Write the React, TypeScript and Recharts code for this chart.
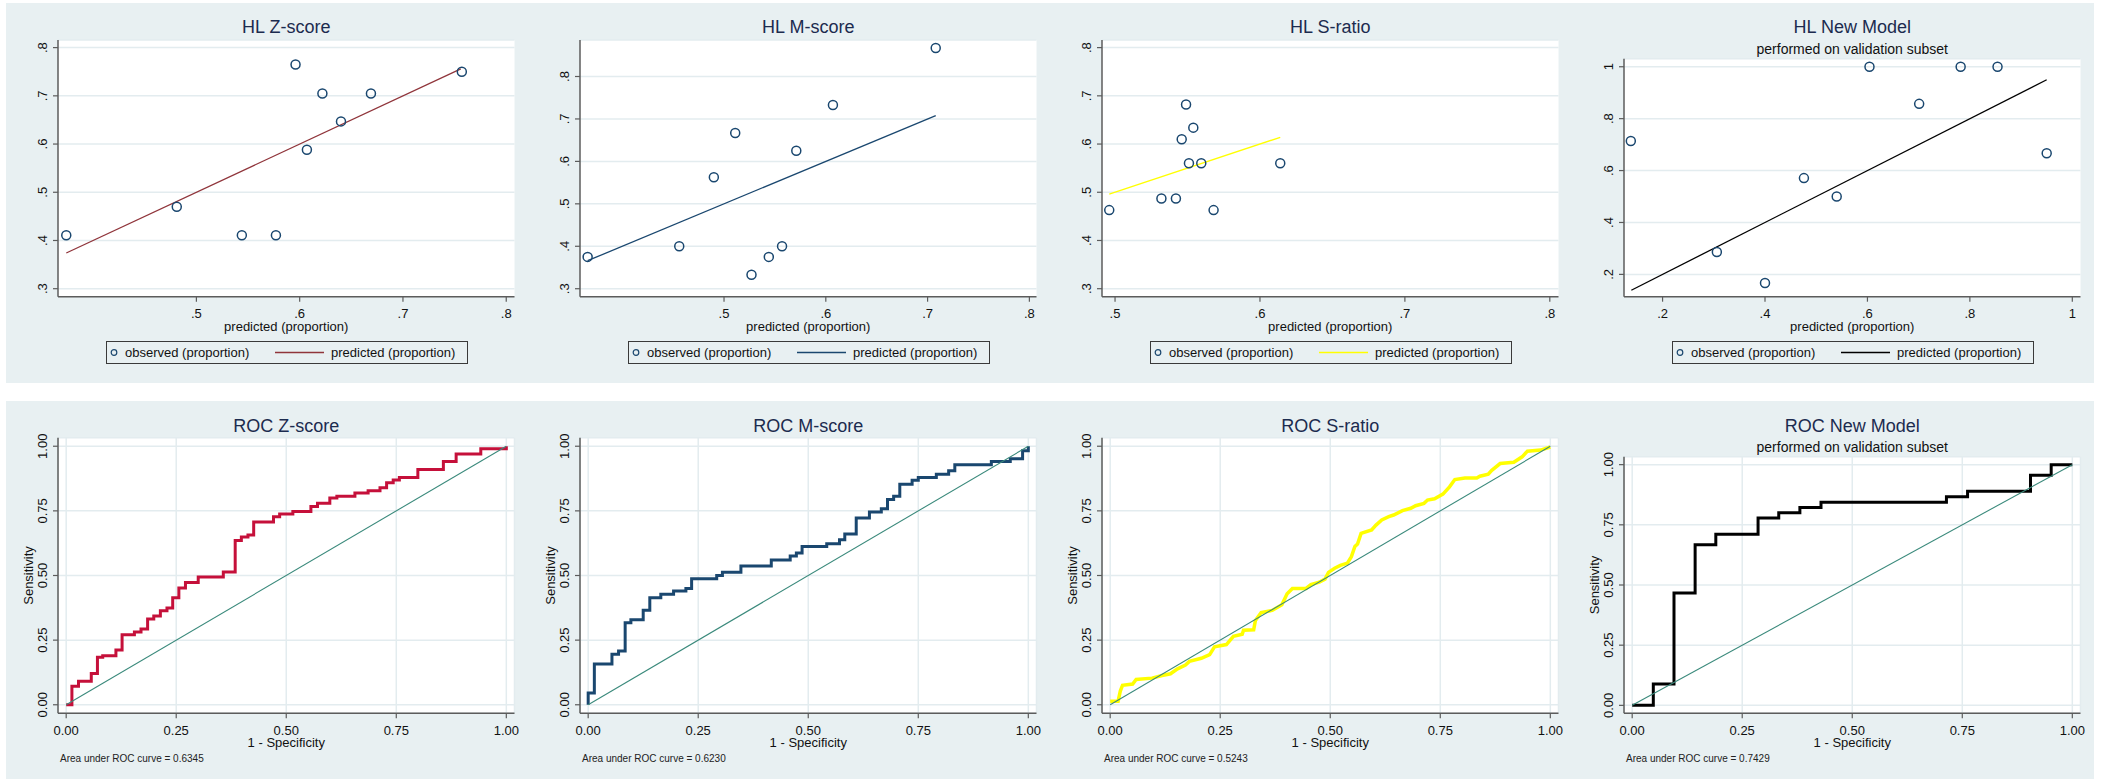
import React from 'react';
import { ComposedChart, Line, Scatter, XAxis, YAxis, CartesianGrid, Label } from 'recharts';

// Hosmer-Lemeshow groups: predicted proportion (x) vs observed proportion (y)
const zObsX = [0.374, 0.481, 0.544, 0.577, 0.596, 0.607, 0.622, 0.640, 0.669, 0.757];
const zObsY = [0.411, 0.470, 0.411, 0.411, 0.765, 0.588, 0.705, 0.647, 0.705, 0.750];
const zPredX = [0.374, 0.756];
const zPredY = [0.374, 0.756];

const mObsX = [0.366, 0.456, 0.490, 0.511, 0.527, 0.544, 0.557, 0.571, 0.607, 0.708];
const mObsY = [0.375, 0.400, 0.5625, 0.667, 0.333, 0.375, 0.400, 0.625, 0.733, 0.867];
const mPredX = [0.366, 0.708];
const mPredY = [0.366, 0.708];

const sObsX = [0.496, 0.532, 0.542, 0.546, 0.549, 0.551, 0.554, 0.5595, 0.568, 0.614];
const sObsY = [0.463, 0.487, 0.487, 0.610, 0.682, 0.560, 0.634, 0.560, 0.463, 0.560];
const sPredX = [0.496, 0.614];
const sPredY = [0.496, 0.614];

const nObsX = [0.138, 0.306, 0.400, 0.476, 0.540, 0.604, 0.701, 0.782, 0.854, 0.950];
const nObsY = [0.714, 0.286, 0.167, 0.571, 0.500, 1.000, 0.857, 1.000, 1.000, 0.667];
const nPredX = [0.139, 0.950];
const nPredY = [0.139, 0.950];

// ROC curves: 1 - specificity (x) vs sensitivity (y)
const rocZX = [0, 0.013, 0.028, 0.057, 0.071, 0.083, 0.113, 0.127, 0.155, 0.170, 0.185, 0.199, 0.214, 0.229, 0.242, 0.256, 0.271, 0.300, 0.357, 0.384, 0.398, 0.413, 0.426, 0.471, 0.485, 0.515, 0.556, 0.571, 0.599, 0.615, 0.656, 0.686, 0.713, 0.728, 0.743, 0.757, 0.799, 0.857, 0.886, 0.942, 1];
const rocZY = [0, 0.072, 0.091, 0.121, 0.184, 0.190, 0.212, 0.271, 0.281, 0.293, 0.332, 0.343, 0.364, 0.374, 0.414, 0.452, 0.473, 0.494, 0.514, 0.635, 0.649, 0.657, 0.707, 0.727, 0.738, 0.748, 0.767, 0.779, 0.800, 0.807, 0.819, 0.828, 0.839, 0.859, 0.869, 0.879, 0.910, 0.941, 0.970, 0.990, 1];

const rocMX = [0, 0, 0.014, 0.054, 0.069, 0.084, 0.097, 0.125, 0.140, 0.165, 0.194, 0.222, 0.235, 0.292, 0.305, 0.347, 0.416, 0.459, 0.473, 0.486, 0.542, 0.571, 0.583, 0.609, 0.639, 0.666, 0.680, 0.694, 0.708, 0.736, 0.750, 0.791, 0.819, 0.833, 0.916, 0.959, 0.987, 1];
const rocMY = [0, 0.046, 0.158, 0.195, 0.208, 0.317, 0.329, 0.366, 0.414, 0.427, 0.440, 0.450, 0.487, 0.500, 0.513, 0.537, 0.560, 0.575, 0.587, 0.612, 0.623, 0.638, 0.661, 0.722, 0.746, 0.758, 0.794, 0.807, 0.853, 0.868, 0.879, 0.892, 0.905, 0.928, 0.941, 0.952, 0.983, 1];

const rocSX = [0, 0.018, 0.023, 0.028, 0.051, 0.059, 0.095, 0.118, 0.137, 0.153, 0.171, 0.180, 0.207, 0.226, 0.237, 0.264, 0.280, 0.300, 0.303, 0.326, 0.330, 0.343, 0.368, 0.390, 0.402, 0.414, 0.445, 0.456, 0.475, 0.488, 0.496, 0.510, 0.523, 0.539, 0.548, 0.556, 0.562, 0.570, 0.594, 0.604, 0.617, 0.633, 0.644, 0.664, 0.683, 0.694, 0.713, 0.721, 0.737, 0.756, 0.771, 0.783, 0.806, 0.833, 0.840, 0.859, 0.867, 0.886, 0.917, 0.936, 0.948, 0.978, 1];
const rocSY = [0.014, 0.014, 0.053, 0.075, 0.080, 0.098, 0.103, 0.113, 0.120, 0.139, 0.154, 0.168, 0.180, 0.194, 0.224, 0.233, 0.265, 0.273, 0.288, 0.290, 0.326, 0.357, 0.365, 0.387, 0.429, 0.450, 0.450, 0.465, 0.474, 0.486, 0.512, 0.528, 0.539, 0.548, 0.573, 0.612, 0.622, 0.663, 0.676, 0.695, 0.715, 0.728, 0.734, 0.751, 0.760, 0.770, 0.779, 0.792, 0.797, 0.815, 0.843, 0.871, 0.877, 0.877, 0.884, 0.892, 0.907, 0.933, 0.938, 0.959, 0.981, 0.985, 0.997];

const rocNX = [0, 0.048, 0.095, 0.143, 0.190, 0.286, 0.333, 0.381, 0.429, 0.714, 0.762, 0.905, 0.952, 1];
const rocNY = [0, 0.089, 0.467, 0.667, 0.711, 0.778, 0.800, 0.822, 0.844, 0.867, 0.889, 0.956, 1, 1];

const diagX = [0, 1];
const diagY = [0, 1];

const hlTicks = [0.3, 0.4, 0.5, 0.6, 0.7, 0.8];
const hlXTicks = [0.5, 0.6, 0.7, 0.8];
const newTicks = [0.2, 0.4, 0.6, 0.8, 1];
const rocTicks = [0, 0.25, 0.5, 0.75, 1];

const BG = '#e8f0f2';
const GRID = '#e3ecef';
const AXIS = '#5c5c5c';
const NAVY = '#1a476f';
const TITLE = '#1c2b4f';
const FONT = '"Liberation Sans", Arial, Helvetica, sans-serif';

const PW = 522;
const PL = 52;
const PR = 13.5;
const CX = (PL + PW - PR) / 2;

const pts = (xs: number[], ys: number[]) => xs.map((x, i) => ({ x, y: ys[i] }));
const stataFmt = (v: number) => String(+v.toFixed(2)).replace(/^0\./, '.');
const rocFmt = (v: number) => v.toFixed(2);

function YTick(props: any) {
  const { x, y, payload, fmt } = props;
  return (
    <text x={x} y={y} transform={`rotate(-90 ${x} ${y})`} textAnchor="middle" dy="0.36em"
      fontSize={13} fill="#111" fontFamily={FONT}>
      {fmt(payload.value)}
    </text>
  );
}

function Titles({ title, subtitle, top }: { title: string; subtitle?: string; top: number }) {
  return (
    <>
      <div style={{ position: 'absolute', left: CX - 200, width: 400, top: top - 9, textAlign: 'center', fontSize: 18, lineHeight: '18px', color: TITLE }}>
        {title}
      </div>
      {subtitle && (
        <div style={{ position: 'absolute', left: CX - 200, width: 400, top: top + 21.7 - 7, textAlign: 'center', fontSize: 14, lineHeight: '14px', color: '#111' }}>
          {subtitle}
        </div>
      )}
    </>
  );
}

function HLPanel(props: {
  left: number; title: string; subtitle?: string;
  obsX: number[]; obsY: number[]; predX: number[]; predY: number[];
  color: string; xDomain: number[]; xTicks: number[]; yDomain: number[]; yTicks: number[]; plotTop: number;
}) {
  const { left, title, subtitle, obsX, obsY, predX, predY, color, xDomain, xTicks, yDomain, yTicks, plotTop } = props;
  const H = 380;
  const plotBottom = 293.7;
  return (
    <div style={{ position: 'absolute', left, top: 3, width: PW, height: H, background: BG }}>
      <Titles title={title} subtitle={subtitle} top={24.3} />
      <ComposedChart width={PW} height={H} margin={{ top: plotTop, right: PR, bottom: H - plotBottom - 30, left: 0 }}>
        <CartesianGrid vertical={false} stroke={GRID} strokeWidth={1.5} fill="#fff" fillOpacity={1} />
        <XAxis type="number" dataKey="x" domain={xDomain} ticks={xTicks} allowDataOverflow height={30}
          tickFormatter={stataFmt} tickSize={5} tickMargin={7}
          tick={{ fontSize: 13, fill: '#111', fontFamily: FONT }}
          axisLine={{ stroke: AXIS, strokeWidth: 1.5 }} tickLine={{ stroke: AXIS, strokeWidth: 1.2 }}>
          <Label content={() => (
            <text x={CX} y={plotBottom + 30} dy="0.35em" textAnchor="middle" fontSize={13} fill="#111" fontFamily={FONT}>
              predicted (proportion)
            </text>
          )} />
        </XAxis>
        <YAxis type="number" dataKey="y" domain={yDomain} ticks={yTicks} allowDataOverflow width={PL}
          tickSize={5} tickMargin={10.7} tick={(p: any) => <YTick {...p} fmt={stataFmt} />}
          axisLine={{ stroke: AXIS, strokeWidth: 1.5 }} tickLine={{ stroke: AXIS, strokeWidth: 1.2 }} />
        <Line data={pts(predX, predY)} dataKey="y" type="linear" stroke={color} strokeWidth={1.3}
          dot={false} activeDot={false} isAnimationActive={false} />
        <Scatter data={pts(obsX, obsY)} isAnimationActive={false}
          shape={(p: any) => <circle cx={p.cx} cy={p.cy} r={4.5} fill="none" stroke={NAVY} strokeWidth={1.5} />} />
      </ComposedChart>
      <div style={{ position: 'absolute', left: 99.5, top: 337.7, width: 362.5, height: 23.6, boxSizing: 'border-box', border: '1.3px solid #3a3a3a', fontSize: 13, color: '#111' }}>
        <svg width={360} height={21} style={{ position: 'absolute', left: 0, top: 0 }}>
          <circle cx={7} cy={10.5} r={2.8} fill="none" stroke={NAVY} strokeWidth={1.2} />
          <line x1={168} x2={217} y1={10.5} y2={10.5} stroke={color} strokeWidth={1.3} />
        </svg>
        <span style={{ position: 'absolute', left: 18.5, top: 4, lineHeight: '13px' }}>observed (proportion)</span>
        <span style={{ position: 'absolute', left: 224.5, top: 4, lineHeight: '13px' }}>predicted (proportion)</span>
      </div>
    </div>
  );
}

function ROCPanel(props: {
  left: number; title: string; subtitle?: string; rx: number[]; ry: number[];
  color: string; width: number; type: 'stepAfter' | 'linear'; auc: string; plotTop: number;
}) {
  const { left, title, subtitle, rx, ry, color, width, type, auc, plotTop } = props;
  const H = 378;
  const plotBottom = 312.3;
  return (
    <div style={{ position: 'absolute', left, top: 401, width: PW, height: H, background: BG }}>
      <Titles title={title} subtitle={subtitle} top={24.5} />
      <ComposedChart width={PW} height={H} margin={{ top: plotTop, right: PR, bottom: H - plotBottom - 30, left: 0 }}>
        <CartesianGrid stroke={GRID} strokeWidth={1.5} fill="#fff" fillOpacity={1} />
        <XAxis type="number" dataKey="x" domain={[-0.0186, 1.0186]} ticks={rocTicks} allowDataOverflow height={30}
          tickFormatter={rocFmt} tickSize={5} tickMargin={7}
          tick={{ fontSize: 13, fill: '#111', fontFamily: FONT }}
          axisLine={{ stroke: AXIS, strokeWidth: 1.5 }} tickLine={{ stroke: AXIS, strokeWidth: 1.2 }}>
          <Label content={() => (
            <text x={CX} y={plotBottom + 29} dy="0.35em" textAnchor="middle" fontSize={13} fill="#111" fontFamily={FONT}>
              1 - Specificity
            </text>
          )} />
        </XAxis>
        <YAxis type="number" dataKey="y" domain={[-0.033, 1.033]} ticks={rocTicks} allowDataOverflow width={PL}
          tickSize={5} tickMargin={10.7} tick={(p: any) => <YTick {...p} fmt={rocFmt} />}
          axisLine={{ stroke: AXIS, strokeWidth: 1.5 }} tickLine={{ stroke: AXIS, strokeWidth: 1.2 }}>
          <Label content={() => {
            const cy = (plotTop + plotBottom) / 2;
            return (
              <text x={22.7} y={cy} transform={`rotate(-90 22.7 ${cy})`} dy="0.35em" textAnchor="middle"
                fontSize={13} fill="#111" fontFamily={FONT}>
                Sensitivity
              </text>
            );
          }} />
        </YAxis>
        <Line data={pts(rx, ry)} dataKey="y" type={type} stroke={color} strokeWidth={width}
          strokeLinejoin="miter" dot={false} activeDot={false} isAnimationActive={false} />
        <Line data={pts(diagX, diagY)} dataKey="y" type="linear" stroke="#3b8a7c" strokeWidth={1.1}
          dot={false} activeDot={false} isAnimationActive={false} />
      </ComposedChart>
      <div style={{ position: 'absolute', left: 54, top: 358.3 - 5, fontSize: 10, lineHeight: '10px', color: '#222' }}>
        Area under ROC curve = {auc}
      </div>
    </div>
  );
}

export default function App() {
  return (
    <div style={{ position: 'absolute', left: 0, top: 0, width: 2107, height: 779, background: '#fff', overflow: 'hidden', fontFamily: FONT }}>
      <HLPanel left={6} title="HL Z-score" obsX={zObsX} obsY={zObsY} predX={zPredX} predY={zPredY}
        color="#90353b" xDomain={[0.366, 0.808]} xTicks={hlXTicks} yDomain={[0.2834, 0.8158]} yTicks={hlTicks} plotTop={37} />
      <HLPanel left={528} title="HL M-score" obsX={mObsX} obsY={mObsY} predX={mPredX} predY={mPredY}
        color={NAVY} xDomain={[0.3585, 0.807]} xTicks={hlXTicks} yDomain={[0.2812, 0.886]} yTicks={hlTicks} plotTop={37} />
      <HLPanel left={1050} title="HL S-ratio" obsX={sObsX} obsY={sObsY} predX={sPredX} predY={sPredY}
        color="#ffff00" xDomain={[0.491, 0.806]} xTicks={hlXTicks} yDomain={[0.2834, 0.8158]} yTicks={hlTicks} plotTop={37} />
      <HLPanel left={1572} title="HL New Model" subtitle="performed on validation subset" obsX={nObsX} obsY={nObsY}
        predX={nPredX} predY={nPredY} color="#000" xDomain={[0.1247, 1.016]} xTicks={newTicks}
        yDomain={[0.114, 1.031]} yTicks={newTicks} plotTop={55.7} />

      <ROCPanel left={6} title="ROC Z-score" rx={rocZX} ry={rocZY} color="#c5103a" width={3} type="stepAfter" auc="0.6345" plotTop={36.7} />
      <ROCPanel left={528} title="ROC M-score" rx={rocMX} ry={rocMY} color="#1a476f" width={3} type="stepAfter" auc="0.6230" plotTop={36.7} />
      <ROCPanel left={1050} title="ROC S-ratio" rx={rocSX} ry={rocSY} color="#ffff00" width={3.5} type="linear" auc="0.5243" plotTop={36.7} />
      <ROCPanel left={1572} title="ROC New Model" subtitle="performed on validation subset" rx={rocNX} ry={rocNY}
        color="#000" width={3} type="stepAfter" auc="0.7429" plotTop={55.7} />
    </div>
  );
}
